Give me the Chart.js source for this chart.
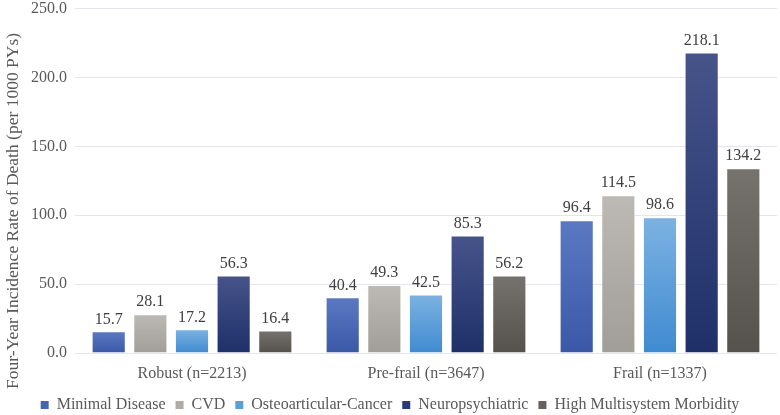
<!DOCTYPE html>
<html>
<head>
<meta charset="utf-8">
<script src="https://cdn.jsdelivr.net/npm/chart.js@4"></script>
<style>
  html, body { margin: 0; padding: 0; background: #fff; overflow: hidden; }
  #frame { width: 780px; height: 415px; overflow: hidden; position: relative; }
  /* canvas is a little taller than the frame so the plot can use the full height */
  #wrap { position: absolute; left: 0; top: -9px; width: 780px; height: 432px; }
</style>
</head>
<body>
<div id="frame"><div id="wrap"><canvas id="chart"></canvas></div></div>
<script>
const categories = ['Robust (n=2213)', 'Pre-frail (n=3647)', 'Frail (n=1337)'];
const seriesNames = ['Minimal Disease', 'CVD', 'Osteoarticular-Cancer', 'Neuropsychiatric', 'High Multisystem Morbidity'];
const minimalDisease = [15.7, 40.4, 96.4];
const cvd = [28.1, 49.3, 114.5];
const osteoCancer = [17.2, 42.5, 98.6];
const neuropsychiatric = [56.3, 85.3, 218.1];
const highMultisystem = [16.4, 56.2, 134.2];
const yTicks = [0, 50, 100, 150, 200, 250];
const yTitle = 'Four-Year Incidence Rate of Death (per 1000 PYs)';

// top / bottom colours of each bar gradient, plus legend swatch
const palette = [
    { top: '#5b79c2', bottom: '#3b58a8', legend: '#4466b2' },
    { top: '#bdbab6', bottom: '#a19d99', legend: '#aeaaa6' },
    { top: '#7db2e2', bottom: '#3f8bd0', legend: '#5a9dd8' },
    { top: '#46548a', bottom: '#1f2f68', legend: '#2a3a74' },
    { top: '#76726e', bottom: '#55514d', legend: '#65615d' }
];

const FONT = '"Liberation Serif", "Times New Roman", Times, serif';

function barGradient(idx) {
    return function (ctx) {
        const chart = ctx.chart;
        if (!chart.chartArea || ctx.type !== 'data') {
            return palette[idx].legend;
        }
        const y = chart.scales.y;
        const top = y.getPixelForValue(ctx.raw);
        const base = y.getPixelForValue(0);
        if (!isFinite(top) || top === base) {
            return palette[idx].legend;
        }
        const g = chart.ctx.createLinearGradient(0, top, 0, base);
        g.addColorStop(0, palette[idx].top);
        g.addColorStop(1, palette[idx].bottom);
        return g;
    };
}

const values = [minimalDisease, cvd, osteoCancer, neuropsychiatric, highMultisystem];

const datasets = seriesNames.map(function (name, i) {
    return {
        label: name,
        data: values[i],
        backgroundColor: barGradient(i),
        borderColor: 'rgba(255,255,255,0.35)',
        borderWidth: 1,
        barPercentage: 0.82,
        categoryPercentage: 0.89
    };
});

// simple value labels above every bar
const valueLabels = {
    id: 'valueLabels',
    afterDatasetsDraw(chart) {
        const c = chart.ctx;
        c.save();
        c.font = '16px ' + FONT;
        c.fillStyle = '#404040';
        c.textAlign = 'center';
        c.textBaseline = 'bottom';
        chart.data.datasets.forEach(function (ds, i) {
            chart.getDatasetMeta(i).data.forEach(function (bar, j) {
                c.fillText(ds.data[j].toFixed(1), bar.x, bar.y - 4);
            });
        });
        c.restore();
    }
};

// y axis title, centred lower than the plot like the original
const axisTitle = {
    id: 'axisTitle',
    afterDraw(chart) {
        const c = chart.ctx;
        c.save();
        c.translate(13, 220);
        c.rotate(-Math.PI / 2);
        c.font = '17.5px ' + FONT;
        c.fillStyle = '#595959';
        c.textAlign = 'center';
        c.textBaseline = 'middle';
        c.fillText(yTitle, 0, 0);
        c.restore();
    }
};

new Chart(document.getElementById('chart').getContext('2d'), {
    type: 'bar',
    data: { labels: categories, datasets: datasets },
    plugins: [valueLabels, axisTitle],
    options: {
        responsive: true,
        maintainAspectRatio: false,
        animation: false,
        layout: { padding: { top: 0, right: 3, left: 3, bottom: 0 } },
        plugins: {
            legend: {
                position: 'bottom',
                labels: {
                    color: '#595959',
                    font: { family: FONT, size: 16 },
                    boxWidth: 8,
                    boxHeight: 8,
                    padding: 10,
                    generateLabels: function (chart) {
                        return seriesNames.map(function (name, i) {
                            return {
                                text: name,
                                fillStyle: palette[i].legend,
                                strokeStyle: palette[i].legend,
                                lineWidth: 0,
                                datasetIndex: i,
                                fontColor: '#595959'
                            };
                        });
                    }
                }
            },
            tooltip: { enabled: false }
        },
        scales: {
            x: {
                grid: { display: false },
                border: { display: false },
                ticks: { color: '#595959', font: { family: FONT, size: 16, lineHeight: 1 }, padding: 5 }
            },
            y: {
                min: 0,
                max: 250,
                afterBuildTicks: function (axis) {
                    axis.ticks = yTicks.map(function (v) { return { value: v }; });
                },
                afterFit: function (axis) {
                    axis.width += 20; // room for the rotated title
                },
                border: { display: false },
                grid: { color: '#e3e6ee', lineWidth: 1, drawTicks: false },
                ticks: {
                    color: '#595959',
                    font: { family: FONT, size: 16 },
                    padding: 8,
                    callback: function (v) { return Number(v).toFixed(1); }
                }
            }
        }
    }
});
</script>
</body>
</html>
